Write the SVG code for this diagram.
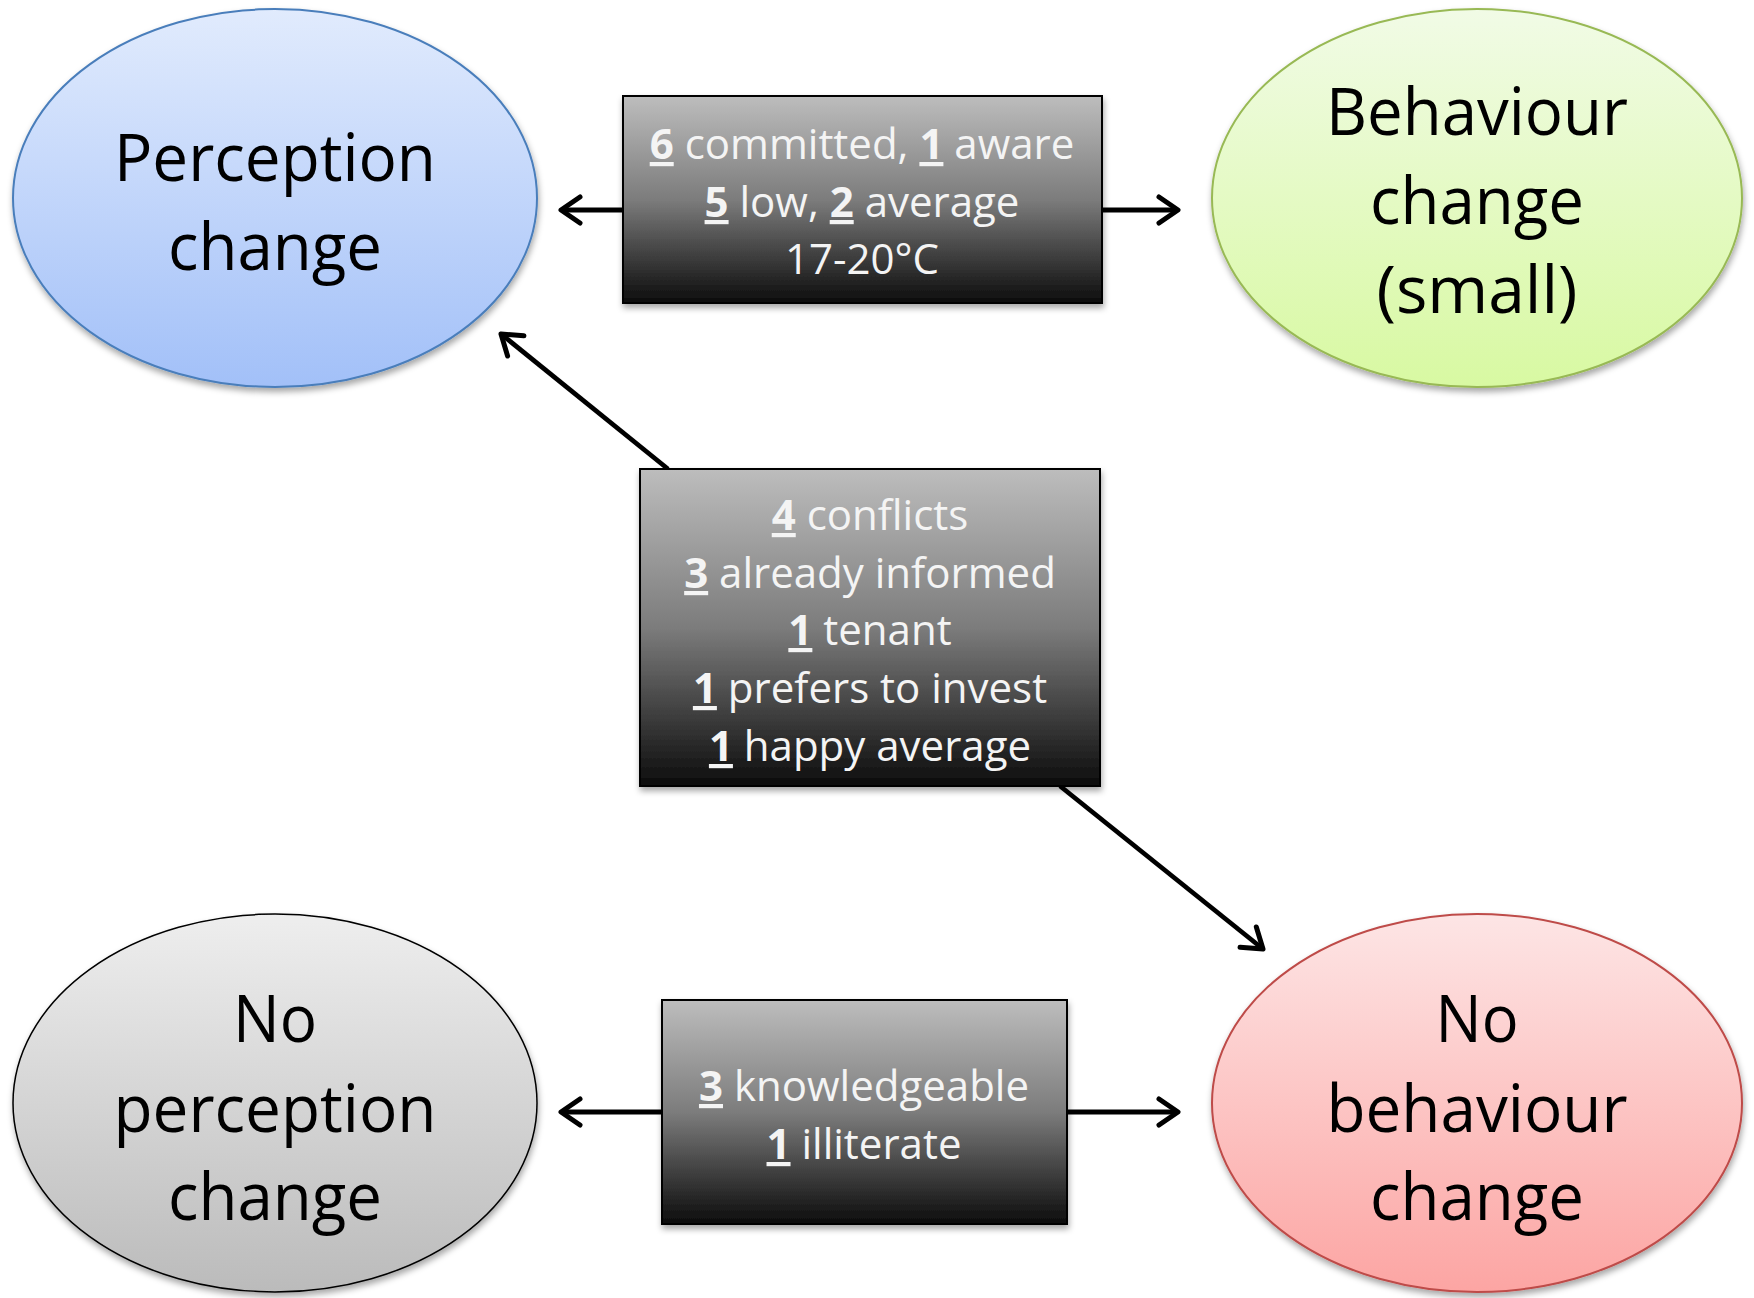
<svg xmlns="http://www.w3.org/2000/svg" width="1754" height="1298" viewBox="0 0 1754 1298">
<style>
.et{font-family:"Open Sans","Noto Sans","Liberation Sans",sans-serif;font-size:66px;fill:#000;text-anchor:middle}
.bt{font-family:"Open Sans","Noto Sans","Liberation Sans",sans-serif;font-size:42px;fill:#f4f4f4;text-anchor:middle}
.n{font-weight:bold;text-decoration:underline}
.box{fill:url(#gBox);stroke:#000;stroke-width:2;filter:url(#sh)}
.conn{stroke:#000;stroke-width:4.8;fill:none;marker-end:url(#ah)}
</style>
<defs>
<linearGradient id="gBox" x1="0" y1="0" x2="0" y2="1">
<stop offset="0" stop-color="#bdbdbd"/><stop offset="0.5" stop-color="#7c7c7c"/><stop offset="1" stop-color="#0c0c0c"/>
</linearGradient>
<linearGradient id="gBlue" x1="0" y1="0" x2="0" y2="1">
<stop offset="0" stop-color="#e1ebfd"/><stop offset="1" stop-color="#a2c0f8"/>
</linearGradient>
<linearGradient id="gGreen" x1="0" y1="0" x2="0" y2="1">
<stop offset="0" stop-color="#f1fbe6"/><stop offset="1" stop-color="#d8f9a2"/>
</linearGradient>
<linearGradient id="gGray" x1="0" y1="0" x2="0" y2="1">
<stop offset="0" stop-color="#eeeeee"/><stop offset="1" stop-color="#bbbbbb"/>
</linearGradient>
<linearGradient id="gRed" x1="0" y1="0" x2="0" y2="1">
<stop offset="0" stop-color="#fde5e5"/><stop offset="1" stop-color="#fca5a3"/>
</linearGradient>
<filter id="sh" x="-10%" y="-10%" width="125%" height="130%">
<feDropShadow dx="1" dy="4" stdDeviation="3" flood-color="#000" flood-opacity="0.35"/>
</filter>
<marker id="ah" markerUnits="userSpaceOnUse" markerWidth="40" markerHeight="40" viewBox="-30 -20 40 40" refX="0" refY="0" orient="auto">
<path d="M-19,-13 L0,0 L-19,13" fill="none" stroke="#000" stroke-width="5" stroke-linecap="round" stroke-linejoin="round"/>
</marker>
</defs>
<rect width="1754" height="1298" fill="#fff"/>

<g id="connectors">
<line class="conn" x1="623" y1="210" x2="561" y2="210"/>
<line class="conn" x1="1102" y1="210" x2="1178" y2="210"/>
<line class="conn" x1="668" y1="469" x2="501" y2="334"/>
<line class="conn" x1="1060" y1="786" x2="1263" y2="949"/>
<line class="conn" x1="662" y1="1112" x2="561" y2="1112"/>
<line class="conn" x1="1067" y1="1112" x2="1178" y2="1112"/>
</g>

<g id="perception-change">
<ellipse cx="275" cy="198" rx="262" ry="189" fill="url(#gBlue)" stroke="#4a7ebb" stroke-width="2" filter="url(#sh)"/>
<text class="et" x="275" y="181" textLength="322" lengthAdjust="spacingAndGlyphs">Perception</text>
<text class="et" x="275" y="270" textLength="214" lengthAdjust="spacingAndGlyphs">change</text>
</g>

<g id="behaviour-change-small">
<ellipse cx="1477" cy="198" rx="265" ry="189" fill="url(#gGreen)" stroke="#98b954" stroke-width="2" filter="url(#sh)"/>
<text class="et" x="1477" y="135" textLength="302" lengthAdjust="spacingAndGlyphs">Behaviour</text>
<text class="et" x="1477" y="224" textLength="214" lengthAdjust="spacingAndGlyphs">change</text>
<text class="et" x="1477" y="313" textLength="201" lengthAdjust="spacingAndGlyphs">(small)</text>
</g>

<g id="no-perception-change">
<ellipse cx="275" cy="1103" rx="262" ry="189" fill="url(#gGray)" stroke="#000" stroke-width="1.5" filter="url(#sh)"/>
<text class="et" x="275" y="1042" textLength="84" lengthAdjust="spacingAndGlyphs">No</text>
<text class="et" x="275" y="1132" textLength="323" lengthAdjust="spacingAndGlyphs">perception</text>
<text class="et" x="275" y="1220" textLength="214" lengthAdjust="spacingAndGlyphs">change</text>
</g>

<g id="no-behaviour-change">
<ellipse cx="1477" cy="1103" rx="265" ry="189" fill="url(#gRed)" stroke="#be4b48" stroke-width="2" filter="url(#sh)"/>
<text class="et" x="1477" y="1042" textLength="83" lengthAdjust="spacingAndGlyphs">No</text>
<text class="et" x="1477" y="1132" textLength="301" lengthAdjust="spacingAndGlyphs">behaviour</text>
<text class="et" x="1477" y="1220" textLength="214" lengthAdjust="spacingAndGlyphs">change</text>
</g>

<g id="box-top">
<rect class="box" x="623" y="96" width="479" height="207"/>
<text class="bt" x="862" y="159"><tspan class="n">6</tspan> committed, <tspan class="n">1</tspan> aware</text>
<text class="bt" x="862" y="217"><tspan class="n">5</tspan> low, <tspan class="n">2</tspan> average</text>
<text class="bt" x="862" y="274">17-20°C</text>
</g>

<g id="box-middle">
<rect class="box" x="640" y="469" width="460" height="317"/>
<text class="bt" x="870" y="530"><tspan class="n">4</tspan> conflicts</text>
<text class="bt" x="870" y="588"><tspan class="n">3</tspan> already informed</text>
<text class="bt" x="870" y="645"><tspan class="n">1</tspan> tenant</text>
<text class="bt" x="870" y="703"><tspan class="n">1</tspan> prefers to invest</text>
<text class="bt" x="870" y="761"><tspan class="n">1</tspan> happy average</text>
</g>

<g id="box-bottom">
<rect class="box" x="662" y="1000" width="405" height="224"/>
<text class="bt" x="864" y="1101"><tspan class="n">3</tspan> knowledgeable</text>
<text class="bt" x="864" y="1159"><tspan class="n">1</tspan> illiterate</text>
</g>
</svg>
